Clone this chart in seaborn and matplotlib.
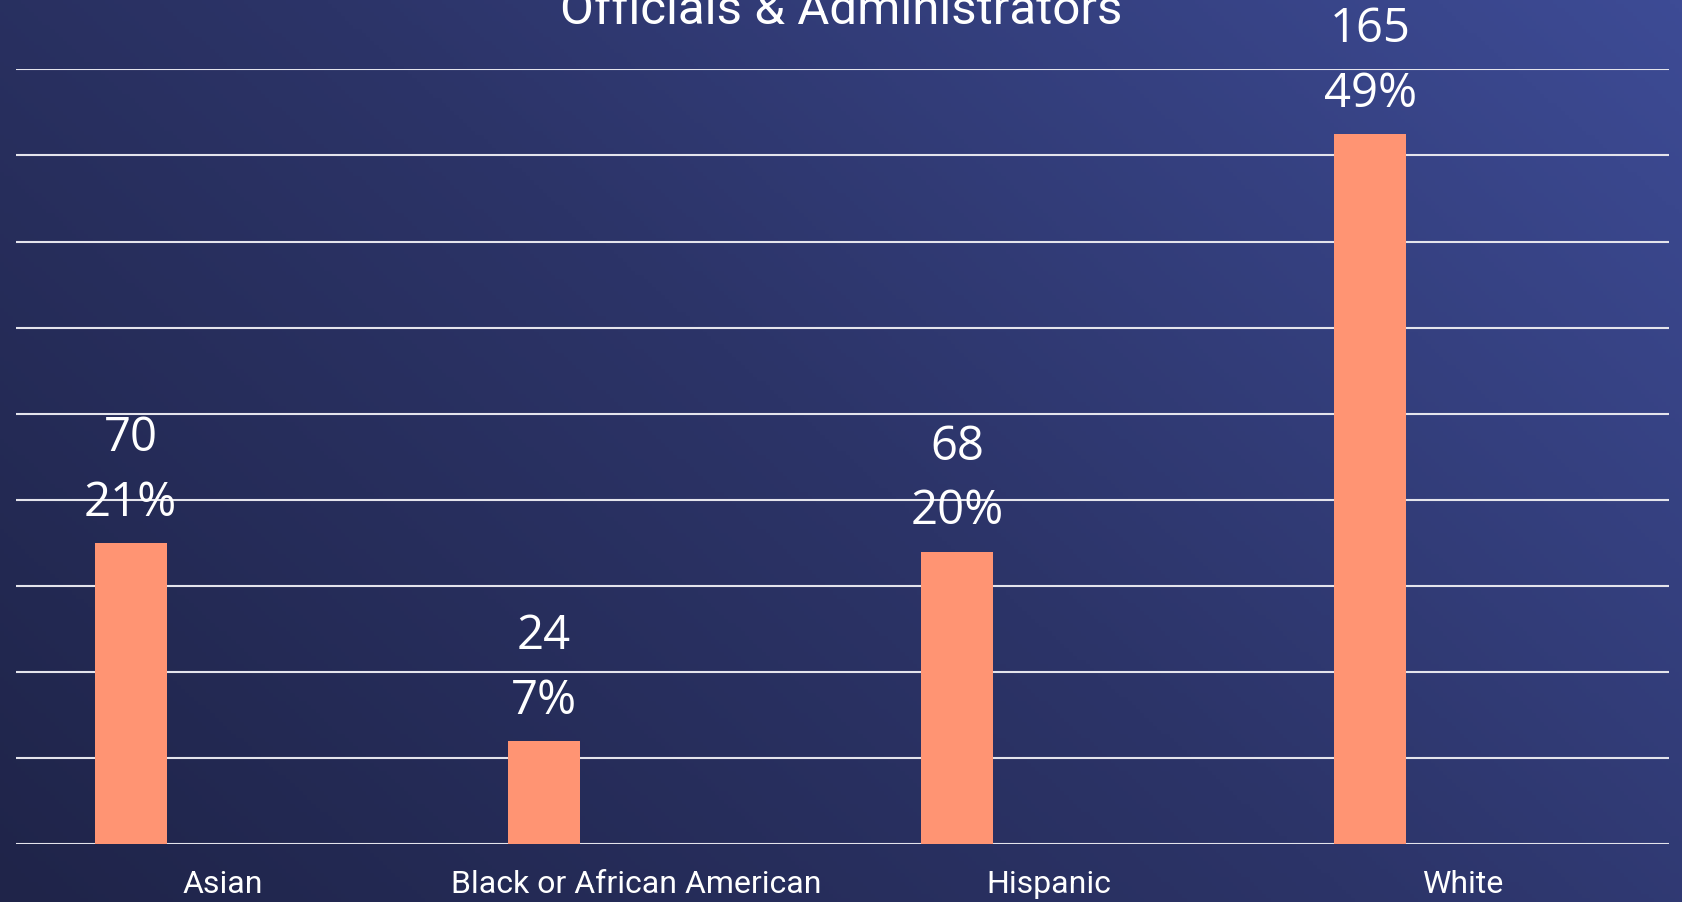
import numpy as np
import pandas as pd
import matplotlib
matplotlib.use("Agg")
import matplotlib.pyplot as plt
from matplotlib.colors import LinearSegmentedColormap
import seaborn as sns

# Workforce composition: Officials & Administrators
categories = ["Asian", "Black or African American", "Hispanic", "White"]
counts = [70, 24, 68, 165]
percents = [21, 7, 20, 49]
title = "Officials & Administrators"

sns.set_theme(style="white")
plt.rcParams["font.family"] = ["Roboto", "DejaVu Sans"]

W, H, DPI = 1683, 902, 100
fig = plt.figure(figsize=(W / DPI, H / DPI), dpi=DPI)

# Diagonal navy gradient behind everything
bg = fig.add_axes([0, 0, 1, 1], zorder=0)
bg.set_axis_off()
gx, gy = np.meshgrid(np.linspace(0, 1, 400), np.linspace(0, 1, 220))
grad = (gx * 0.62 + gy * 0.38)
cmap = LinearSegmentedColormap.from_list("navy", ["#1f2449", "#2c3468", "#3d4b95"])
bg.imshow(grad, cmap=cmap, origin="lower", aspect="auto", extent=[0, 1, 0, 1])

df = pd.DataFrame({"group": categories, "count": counts, "pct": percents})

ax = fig.add_axes([16 / W, (H - 844.3) / H, 1653 / W, (844.3 - 69.3) / H], zorder=1)
ax.patch.set_alpha(0)
sns.barplot(data=df, x="group", y="count", order=categories, color="#FF9473",
            saturation=1, width=0.174, ax=ax, zorder=3, edgecolor="none")

off = 0.2226
ax.set_xlim(-0.5 + off, 3.5 + off)
ax.set_ylim(0, 180)
ax.set_yticks(np.arange(0, 181, 20))
ax.set_yticklabels([])
ax.set_xticks(np.arange(len(categories)) + off)
ax.set_xticklabels(categories, color="white", fontsize=23, family=["Roboto", "DejaVu Sans"])
ax.tick_params(axis="x", length=0, pad=18.5)
ax.tick_params(axis="y", length=0)
ax.set_xlabel("")
ax.set_ylabel("")
for s in ax.spines.values():
    s.set_visible(False)
ax.grid(axis="y", color="#e4e4ec", linewidth=1.5, zorder=1)
ax.set_axisbelow(True)

for bar, c, p in zip(ax.patches, df["count"], df["pct"]):
    xc = bar.get_x() + bar.get_width() / 2
    top = bar.get_height()
    ax.annotate(f"{p}%", (xc, top), xytext=(0, 19.5), textcoords="offset points",
                ha="center", va="baseline", color="white", fontsize=34,
                family=["Open Sans", "DejaVu Sans"], annotation_clip=False)
    ax.annotate(f"{c}", (xc, top), xytext=(0, 66), textcoords="offset points",
                ha="center", va="baseline", color="white", fontsize=34,
                family=["Open Sans", "DejaVu Sans"], annotation_clip=False)

fig.text(0.5, (H - 24) / H, title, ha="center", va="baseline", color="white",
         fontsize=35.5, family=["Roboto", "DejaVu Sans"])

fig.savefig("out.png", dpi=DPI)
